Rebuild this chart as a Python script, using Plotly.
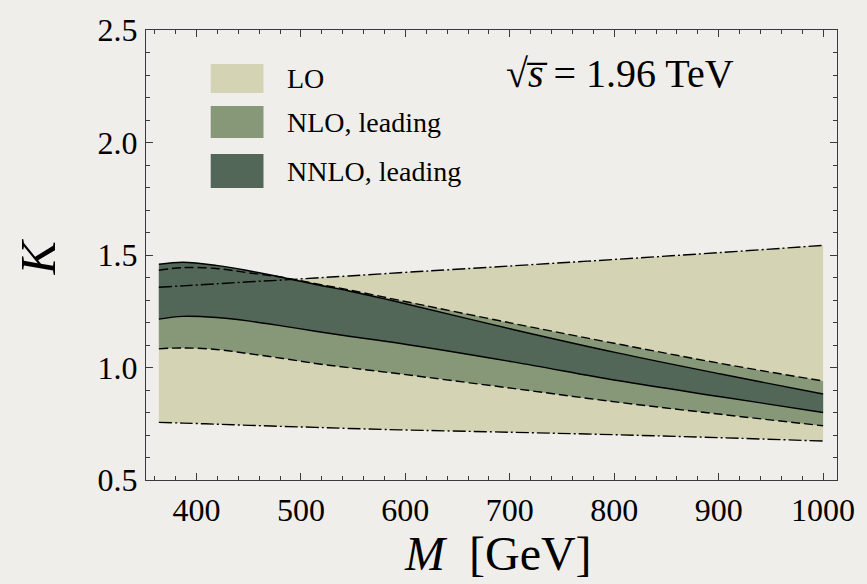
import plotly.graph_objects as go

# Invariant mass grid [GeV]
mass = [364, 387, 419, 451, 483, 514, 546, 594, 703, 803, 902, 1000]

# K-factor bands (lower / upper edges)
lo_low = [0.756, 0.753, 0.748, 0.743, 0.738, 0.734, 0.729, 0.723, 0.712, 0.701, 0.688, 0.673]
lo_up = [1.357, 1.363, 1.372, 1.381, 1.389, 1.398, 1.407, 1.421, 1.452, 1.481, 1.511, 1.543]
nlo_low = [1.083, 1.087, 1.080, 1.061, 1.040, 1.018, 0.999, 0.972, 0.907, 0.846, 0.792, 0.741]
nlo_up = [1.432, 1.444, 1.440, 1.420, 1.400, 1.373, 1.345, 1.299, 1.196, 1.105, 1.018, 0.940]
nnlo_low = [1.215, 1.227, 1.222, 1.206, 1.184, 1.161, 1.139, 1.108, 1.025, 0.942, 0.870, 0.800]
nnlo_up = [1.459, 1.468, 1.454, 1.429, 1.400, 1.369, 1.340, 1.290, 1.169, 1.065, 0.971, 0.882]

band_names = ["LO", "NLO, leading", "NNLO, leading"]
band_colors = ["#d4d4b4", "#879878", "#526758"]
edge_dash = ["13px,3px,2px,3px", "9px,4px", "solid"]

SERIF = "Liberation Serif"
BG = "#efeeea"

fig = go.Figure()

bands = [(lo_low, lo_up), (nlo_low, nlo_up), (nnlo_low, nnlo_up)]

# filled bands, drawn from LO up to NNLO
for (low, up), color in zip(bands, band_colors):
    fig.add_trace(go.Scatter(x=mass, y=low, mode="lines", line=dict(width=0, shape="spline"),
                             showlegend=False, hoverinfo="skip"))
    fig.add_trace(go.Scatter(x=mass, y=up, mode="lines", line=dict(width=0, shape="spline"),
                             fill="tonexty", fillcolor=color, showlegend=False, hoverinfo="skip"))

# band edges on top of all fills
for (low, up), dash in zip(bands, edge_dash):
    for edge in (low, up):
        fig.add_trace(go.Scatter(x=mass, y=edge, mode="lines",
                                 line=dict(color="black", width=1.4, dash=dash, shape="spline"),
                                 showlegend=False, hoverinfo="skip"))

# legend swatches and labels
sw_x0, sw_x1 = 211, 264
sw_rows = [(64, 93), (106, 138), (154, 188)]
W, H = 867, 584
for (y0, y1), color, name in zip(sw_rows, band_colors, band_names):
    fig.add_shape(type="rect", xref="paper", yref="paper",
                  x0=(sw_x0 - 146) / 694, x1=(sw_x1 - 146) / 694,
                  y0=(480 - y1) / 450, y1=(480 - y0) / 450,
                  fillcolor=color, line=dict(width=0), layer="above")
    fig.add_annotation(xref="paper", yref="paper", x=(286 - 146) / 694, y=(480 - (y0 + y1) / 2) / 450,
                       text=name, showarrow=False, xanchor="left", yanchor="middle",
                       font=dict(family=SERIF, size=28, color="black"))

fig.add_annotation(xref="paper", yref="paper", x=(622 - 146) / 694, y=(480 - 74) / 450,
                   text="\u221a<i>s\u0305</i> = 1.96 TeV", showarrow=False,
                   xanchor="center", yanchor="middle",
                   font=dict(family=SERIF, size=40, color="black"))

# axis titles
fig.add_annotation(xref="paper", yref="paper", x=(38 - 146) / 694, y=(480 - 257) / 450,
                   text="<i>K</i>", textangle=-90, showarrow=False,
                   xanchor="center", yanchor="middle",
                   font=dict(family=SERIF, size=50, color="black"))
fig.add_annotation(xref="paper", yref="paper", x=(500 - 146) / 694, y=(480 - 553) / 450,
                   text="<i>M</i>  [GeV]", showarrow=False,
                   xanchor="center", yanchor="middle",
                   font=dict(family=SERIF, size=48, color="black"))

axis_common = dict(
    showgrid=False, zeroline=False, showline=True, linecolor="#3a3a3a", linewidth=1.3,
    mirror="allticks", ticks="inside", ticklen=7, tickwidth=1, tickcolor="#3a3a3a",
    tickfont=dict(family=SERIF, size=32, color="black"), tickmode="linear",
)

fig.update_xaxes(range=[351.7, 1013.3], tick0=0, dtick=100,
                 minor=dict(dtick=20, tick0=0, ticks="inside", ticklen=4, tickcolor="#3a3a3a"),
                 ticklabelstandoff=1, **axis_common)
fig.update_yaxes(range=[0.5, 2.5], tick0=0, dtick=0.5, tickformat=".1f",
                 minor=dict(dtick=0.1, tick0=0, ticks="inside", ticklen=4, tickcolor="#3a3a3a"),
                 ticklabelstandoff=1, **axis_common)

fig.update_layout(
    width=W, height=H,
    margin=dict(l=146, r=27, t=30, b=104),
    paper_bgcolor=BG, plot_bgcolor=BG,
    showlegend=False,
)

fig.write_html("out.html")
